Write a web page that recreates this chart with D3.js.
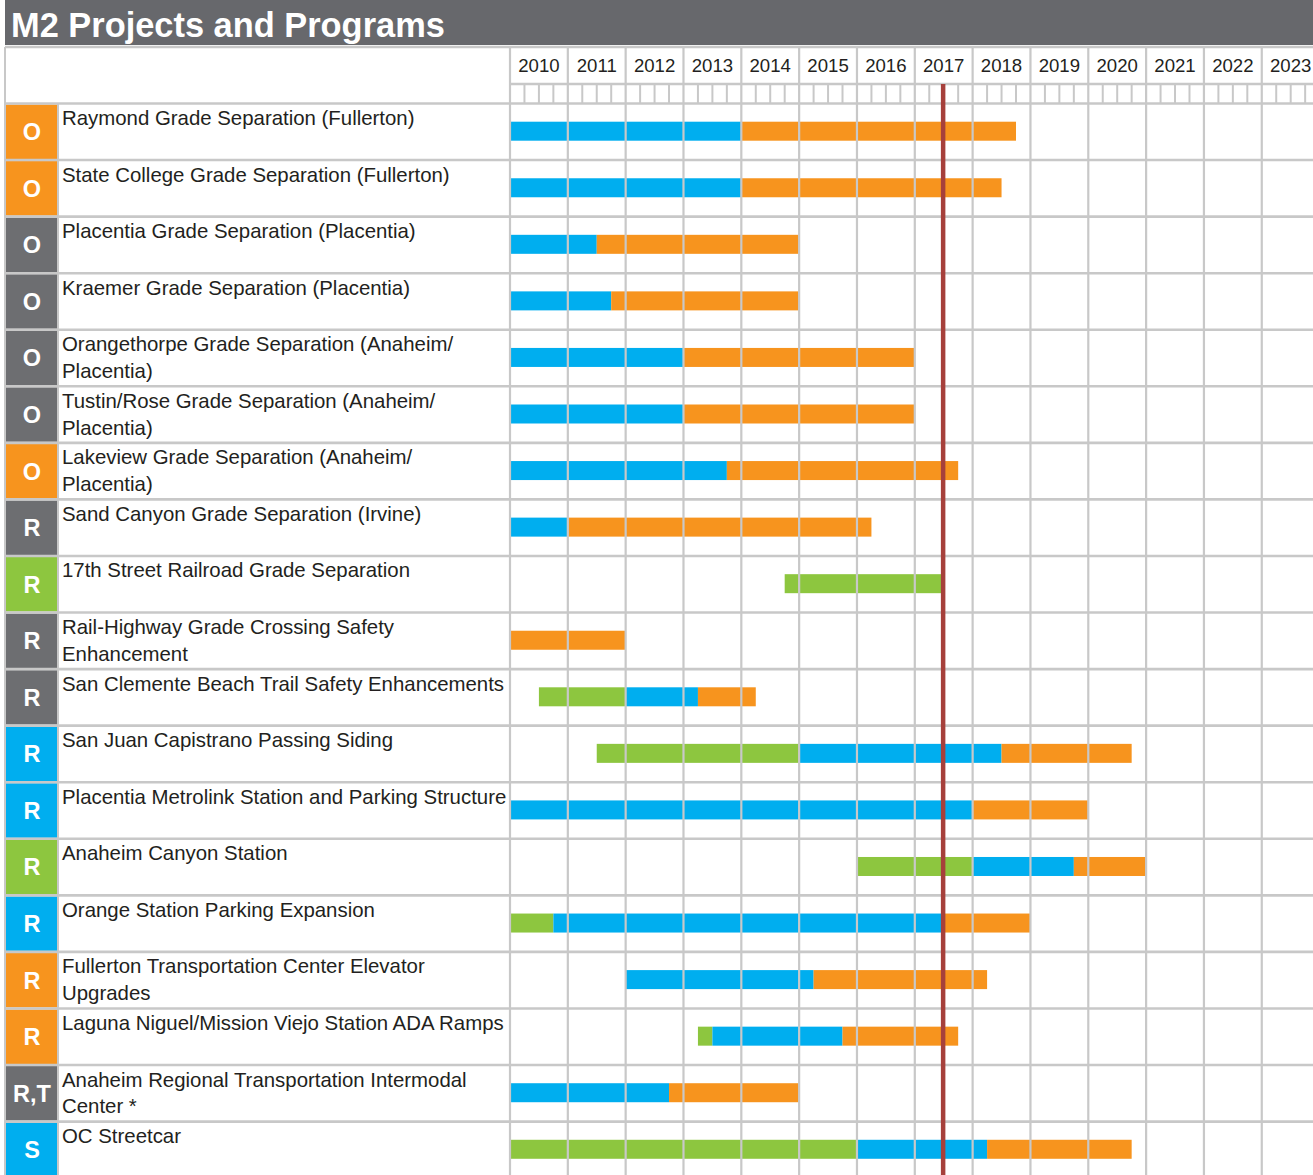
<!DOCTYPE html>
<html>
<head>
<meta charset="utf-8">
<script src="https://cdn.jsdelivr.net/npm/d3@7/dist/d3.min.js"></script>
<style>
  html, body { margin: 0; padding: 0; background: #ffffff; }
  svg { display: block; }
  text { font-family: "Liberation Sans", Arial, Helvetica, sans-serif; }
</style>
</head>
<body>
<svg id="chart" width="1313" height="1175"></svg>
<script>
// ---------------- DATA ----------------
const title = "M2 Projects and Programs";

const years = [2010, 2011, 2012, 2013, 2014, 2015, 2016, 2017, 2018, 2019, 2020, 2021, 2022, 2023];

const projectLabels = [
  ["Raymond Grade Separation (Fullerton)"],
  ["State College Grade Separation (Fullerton)"],
  ["Placentia Grade Separation (Placentia)"],
  ["Kraemer Grade Separation (Placentia)"],
  ["Orangethorpe Grade Separation (Anaheim/", "Placentia)"],
  ["Tustin/Rose Grade Separation (Anaheim/", "Placentia)"],
  ["Lakeview Grade Separation (Anaheim/", "Placentia)"],
  ["Sand Canyon Grade Separation (Irvine)"],
  ["17th Street Railroad Grade Separation"],
  ["Rail-Highway Grade Crossing Safety", "Enhancement"],
  ["San Clemente Beach Trail Safety Enhancements"],
  ["San Juan Capistrano Passing Siding"],
  ["Placentia Metrolink Station and Parking Structure"],
  ["Anaheim Canyon Station"],
  ["Orange Station Parking Expansion"],
  ["Fullerton Transportation Center Elevator", "Upgrades"],
  ["Laguna Niguel/Mission Viejo Station ADA Ramps"],
  ["Anaheim Regional Transportation Intermodal", "Center *"],
  ["OC Streetcar"]
];

const programCodes = ["O","O","O","O","O","O","O","R","R","R","R","R","R","R","R","R","R","R,T","S"];

// current status shown by the badge colour
const currentStatus = ["Construction","Construction","Complete","Complete","Complete","Complete","Construction",
  "Complete","Environmental","Complete","Complete","Design","Design","Environmental","Design",
  "Construction","Construction","Complete","Design"];

// schedule phases: [phase, start year, end year]
const schedules = [
  [["Design", 2010, 2014], ["Construction", 2014, 2018.75]],
  [["Design", 2010, 2014], ["Construction", 2014, 2018.5]],
  [["Design", 2010, 2011.5], ["Construction", 2011.5, 2015]],
  [["Design", 2010, 2011.75], ["Construction", 2011.75, 2015]],
  [["Design", 2010, 2013], ["Construction", 2013, 2017]],
  [["Design", 2010, 2013], ["Construction", 2013, 2017]],
  [["Design", 2010, 2013.75], ["Construction", 2013.75, 2017.75]],
  [["Design", 2010, 2011], ["Construction", 2011, 2016.25]],
  [["Environmental", 2014.75, 2017.49]],
  [["Construction", 2010, 2012]],
  [["Environmental", 2010.5, 2012], ["Design", 2012, 2013.25], ["Construction", 2013.25, 2014.25]],
  [["Environmental", 2011.5, 2015], ["Design", 2015, 2018.5], ["Construction", 2018.5, 2020.75]],
  [["Design", 2010, 2018], ["Construction", 2018, 2020]],
  [["Environmental", 2016, 2018], ["Design", 2018, 2019.75], ["Construction", 2019.75, 2021]],
  [["Environmental", 2010, 2010.75], ["Design", 2010.75, 2017.49], ["Construction", 2017.49, 2019]],
  [["Design", 2012, 2015.25], ["Construction", 2015.25, 2018.25]],
  [["Environmental", 2013.25, 2013.5], ["Design", 2013.5, 2015.75], ["Construction", 2015.75, 2017.75]],
  [["Design", 2010, 2012.75], ["Construction", 2012.75, 2015]],
  [["Environmental", 2010, 2016], ["Design", 2016, 2018.25], ["Construction", 2018.25, 2020.75]]
];

const statusDate = 2017.49;

const phaseColors = { Environmental: "#8dc63f", Design: "#00aeef", Construction: "#f7941e", Complete: "#6d6e71" };

// ---------------- LAYOUT ----------------
const W = 1313, H = 1175;
const gridColor = "#c8c8c8";
const tableLeft = 5, badgeRight = 58;
const headerTop = 47, yearRowBottom = 84, headerBottom = 103.5;
const rowH = 56.56;

const svg = d3.select("#chart");

const x = d3.scaleLinear().domain([2010, 2024]).range([510, 1319.6]);
const y = d3.scaleBand()
  .domain(d3.range(projectLabels.length))
  .range([headerBottom, headerBottom + rowH * projectLabels.length])
  .paddingInner(0).paddingOuter(0);

// title bar
svg.append("rect").attr("x", tableLeft).attr("y", 0).attr("width", W - tableLeft).attr("height", 45)
  .attr("fill", "#67686c");
svg.append("text").attr("x", 11).attr("y", 37).attr("fill", "#ffffff")
  .attr("font-size", 34.4).attr("font-weight", "bold").text(title);

// bars
const barG = svg.append("g");
schedules.forEach((phases, i) => {
  const top = y(i);
  barG.selectAll(null).data(phases).enter().append("rect")
    .attr("x", d => x(d[1]))
    .attr("width", d => x(d[2]) - x(d[1]))
    .attr("y", top + 18.2)
    .attr("height", 19)
    .attr("fill", d => phaseColors[d[0]]);
});

// badges and labels
const badgeG = svg.append("g");
projectLabels.forEach((lines, i) => {
  const top = y(i);
  badgeG.append("rect").attr("x", tableLeft + 1).attr("y", top + 1).attr("width", badgeRight - tableLeft - 2)
    .attr("height", rowH - 2).attr("fill", phaseColors[currentStatus[i]]);
  badgeG.append("text").attr("x", (tableLeft + badgeRight) / 2 + 0.5).attr("y", top + rowH / 2 + 8.4)
    .attr("text-anchor", "middle").attr("fill", "#ffffff").attr("font-weight", "bold")
    .attr("font-size", 23.5).text(programCodes[i]);
  const t = badgeG.append("text").attr("fill", "#231f20").attr("font-size", 20.4);
  lines.forEach((ln, k) => {
    t.append("tspan").attr("x", 62).attr("y", top + 21.5 + k * 26.8).text(ln);
  });
});

// grid: vertical year lines
const gridG = svg.append("g").attr("stroke", gridColor).attr("fill", "none");
const yearLines = d3.range(2010, 2025);
gridG.selectAll("line.yr").data(yearLines).enter().append("line")
  .attr("x1", d => x(d)).attr("x2", d => x(d))
  .attr("y1", headerTop).attr("y2", H)
  .attr("stroke-width", 2.2);

// quarter ticks in the sub-header row
const quarters = [];
years.forEach(yr => { [0.25, 0.5, 0.75].forEach(q => quarters.push(yr + q)); });
gridG.selectAll("line.q").data(quarters).enter().append("line")
  .attr("x1", d => x(d)).attr("x2", d => x(d))
  .attr("y1", yearRowBottom).attr("y2", headerBottom)
  .attr("stroke-width", 2);

// table vertical borders
gridG.append("line").attr("x1", tableLeft).attr("x2", tableLeft).attr("y1", headerTop).attr("y2", H).attr("stroke-width", 2);
gridG.append("line").attr("x1", badgeRight).attr("x2", badgeRight).attr("y1", headerBottom).attr("y2", H).attr("stroke-width", 2);

// horizontal lines
gridG.append("line").attr("x1", tableLeft).attr("x2", W).attr("y1", headerTop).attr("y2", headerTop).attr("stroke-width", 2.4);
gridG.append("line").attr("x1", x(2010)).attr("x2", W).attr("y1", yearRowBottom).attr("y2", yearRowBottom).attr("stroke-width", 2.4);
const rowLines = d3.range(projectLabels.length + 1).map(i => headerBottom + i * rowH);
gridG.selectAll("line.row").data(rowLines).enter().append("line")
  .attr("x1", tableLeft).attr("x2", W).attr("y1", d => d).attr("y2", d => d)
  .attr("stroke-width", 2.6);

// year labels
svg.append("g").selectAll("text").data(years).enter().append("text")
  .attr("x", d => (x(d) + x(d + 1)) / 2).attr("y", 72.3)
  .attr("text-anchor", "middle").attr("font-size", 18.6).attr("fill", "#231f20")
  .text(d => d);

// status date line
svg.append("line").attr("x1", x(statusDate)).attr("x2", x(statusDate))
  .attr("y1", yearRowBottom).attr("y2", H)
  .attr("stroke", "#a6403b").attr("stroke-width", 4.5);
</script>
</body>
</html>
